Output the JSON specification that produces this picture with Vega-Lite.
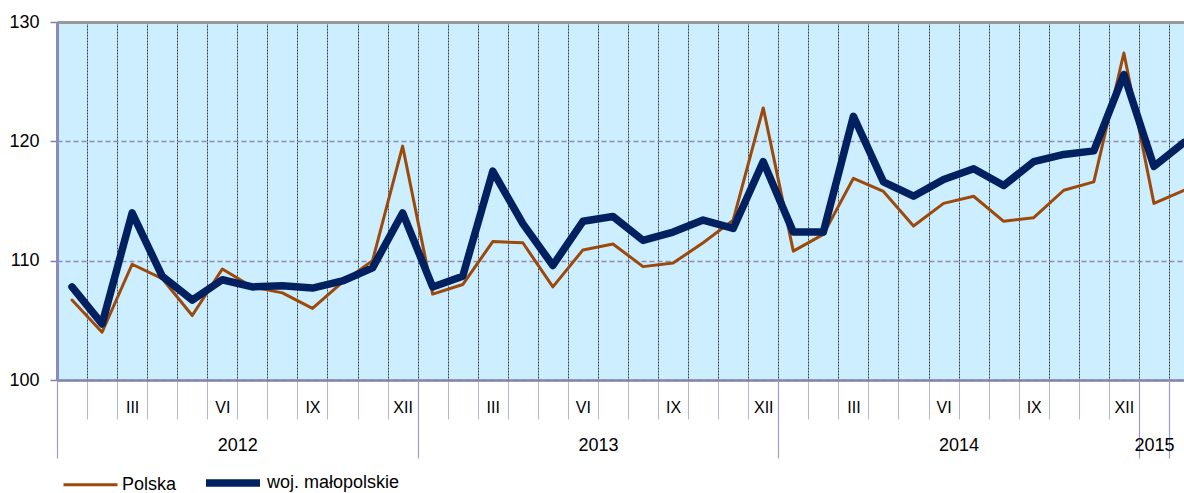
{
  "$schema": "https://vega.github.io/schema/vega-lite/v6.json",
  "width": 1127,
  "height": 358,
  "autosize": "none",
  "padding": {"left": 57, "top": 22, "right": 0, "bottom": 113},
  "background": "white",
  "config": {
    "view": {"fill": "#cdeeff", "stroke": null},
    "axis": {"labelFont": "Liberation Sans", "labelColor": "#000000", "labelOverlap": false, "labelFlush": false, "title": null}
  },
  "data": {
    "values": [
      {"idx": 0, "series": "Polska", "value": 106.7},
      {"idx": 1, "series": "Polska", "value": 104.0},
      {"idx": 2, "series": "Polska", "value": 109.7},
      {"idx": 3, "series": "Polska", "value": 108.5},
      {"idx": 4, "series": "Polska", "value": 105.4},
      {"idx": 5, "series": "Polska", "value": 109.3},
      {"idx": 6, "series": "Polska", "value": 107.8},
      {"idx": 7, "series": "Polska", "value": 107.3},
      {"idx": 8, "series": "Polska", "value": 106.0},
      {"idx": 9, "series": "Polska", "value": 108.2},
      {"idx": 10, "series": "Polska", "value": 110.0},
      {"idx": 11, "series": "Polska", "value": 119.6},
      {"idx": 12, "series": "Polska", "value": 107.2},
      {"idx": 13, "series": "Polska", "value": 108.0},
      {"idx": 14, "series": "Polska", "value": 111.6},
      {"idx": 15, "series": "Polska", "value": 111.5},
      {"idx": 16, "series": "Polska", "value": 107.8},
      {"idx": 17, "series": "Polska", "value": 110.9},
      {"idx": 18, "series": "Polska", "value": 111.4},
      {"idx": 19, "series": "Polska", "value": 109.5},
      {"idx": 20, "series": "Polska", "value": 109.8},
      {"idx": 21, "series": "Polska", "value": 111.5},
      {"idx": 22, "series": "Polska", "value": 113.4},
      {"idx": 23, "series": "Polska", "value": 122.8},
      {"idx": 24, "series": "Polska", "value": 110.8},
      {"idx": 25, "series": "Polska", "value": 112.2},
      {"idx": 26, "series": "Polska", "value": 116.9},
      {"idx": 27, "series": "Polska", "value": 115.8},
      {"idx": 28, "series": "Polska", "value": 112.9},
      {"idx": 29, "series": "Polska", "value": 114.8},
      {"idx": 30, "series": "Polska", "value": 115.4},
      {"idx": 31, "series": "Polska", "value": 113.3},
      {"idx": 32, "series": "Polska", "value": 113.6},
      {"idx": 33, "series": "Polska", "value": 115.9},
      {"idx": 34, "series": "Polska", "value": 116.6},
      {"idx": 35, "series": "Polska", "value": 127.4},
      {"idx": 36, "series": "Polska", "value": 114.8},
      {"idx": 37, "series": "Polska", "value": 115.9},
      {"idx": 0, "series": "woj. małopolskie", "value": 107.8},
      {"idx": 1, "series": "woj. małopolskie", "value": 104.7},
      {"idx": 2, "series": "woj. małopolskie", "value": 114.0},
      {"idx": 3, "series": "woj. małopolskie", "value": 108.7},
      {"idx": 4, "series": "woj. małopolskie", "value": 106.7},
      {"idx": 5, "series": "woj. małopolskie", "value": 108.4},
      {"idx": 6, "series": "woj. małopolskie", "value": 107.8},
      {"idx": 7, "series": "woj. małopolskie", "value": 107.9},
      {"idx": 8, "series": "woj. małopolskie", "value": 107.7},
      {"idx": 9, "series": "woj. małopolskie", "value": 108.3},
      {"idx": 10, "series": "woj. małopolskie", "value": 109.4},
      {"idx": 11, "series": "woj. małopolskie", "value": 114.0},
      {"idx": 12, "series": "woj. małopolskie", "value": 107.8},
      {"idx": 13, "series": "woj. małopolskie", "value": 108.7},
      {"idx": 14, "series": "woj. małopolskie", "value": 117.5},
      {"idx": 15, "series": "woj. małopolskie", "value": 113.1},
      {"idx": 16, "series": "woj. małopolskie", "value": 109.6},
      {"idx": 17, "series": "woj. małopolskie", "value": 113.3},
      {"idx": 18, "series": "woj. małopolskie", "value": 113.7},
      {"idx": 19, "series": "woj. małopolskie", "value": 111.7},
      {"idx": 20, "series": "woj. małopolskie", "value": 112.4},
      {"idx": 21, "series": "woj. małopolskie", "value": 113.4},
      {"idx": 22, "series": "woj. małopolskie", "value": 112.7},
      {"idx": 23, "series": "woj. małopolskie", "value": 118.3},
      {"idx": 24, "series": "woj. małopolskie", "value": 112.4},
      {"idx": 25, "series": "woj. małopolskie", "value": 112.4},
      {"idx": 26, "series": "woj. małopolskie", "value": 122.1},
      {"idx": 27, "series": "woj. małopolskie", "value": 116.6},
      {"idx": 28, "series": "woj. małopolskie", "value": 115.4},
      {"idx": 29, "series": "woj. małopolskie", "value": 116.8},
      {"idx": 30, "series": "woj. małopolskie", "value": 117.7},
      {"idx": 31, "series": "woj. małopolskie", "value": 116.3},
      {"idx": 32, "series": "woj. małopolskie", "value": 118.3},
      {"idx": 33, "series": "woj. małopolskie", "value": 118.9},
      {"idx": 34, "series": "woj. małopolskie", "value": 119.2},
      {"idx": 35, "series": "woj. małopolskie", "value": 125.6},
      {"idx": 36, "series": "woj. małopolskie", "value": 117.9},
      {"idx": 37, "series": "woj. małopolskie", "value": 119.9}
    ]
  },
  "layer": [
    {
      "mark": {"type": "line", "strokeJoin": "round", "strokeCap": "round", "clip": true},
      "encoding": {
        "x": {
          "field": "idx", "type": "quantitative",
          "scale": {"domain": [-0.5, 37], "nice": false, "zero": false},
          "axis": {
            "orient": "bottom",
            "values": [-0.5, 0.5, 1.5, 2.5, 3.5, 4.5, 5.5, 6.5, 7.5, 8.5, 9.5, 10.5, 11.5, 12.5, 13.5, 14.5, 15.5, 16.5, 17.5, 18.5, 19.5, 20.5, 21.5, 22.5, 23.5, 24.5, 25.5, 26.5, 27.5, 28.5, 29.5, 30.5, 31.5, 32.5, 33.5, 34.5, 35.5, 36.5],
            "labels": false,
            "grid": true, "gridColor": "#1c1c2c", "gridDash": [2, 1], "gridWidth": 1, "gridOpacity": 0.85,
            "ticks": true, "tickSize": 39, "tickColor": "#b4b4d6", "tickWidth": 1,
            "domain": true, "domainColor": "#8282aa", "domainWidth": 2.5
          }
        },
        "y": {
          "field": "value", "type": "quantitative",
          "scale": {"domain": [100, 130], "nice": false, "zero": false},
          "axis": {
            "values": [100, 110, 120, 130],
            "grid": true, "gridColor": "#8c8cb2", "gridDash": [5, 3], "gridWidth": 1.5,
            "domain": true, "domainColor": "#8a8abd", "domainWidth": 3,
            "ticks": true, "tickSize": 7, "tickColor": "#8282b0", "tickWidth": 1.5,
            "labelFontSize": 18, "labelPadding": 11, "labelBaseline": "middle"
          }
        },
        "color": {
          "field": "series", "type": "nominal",
          "scale": {"domain": ["Polska", "woj. małopolskie"], "range": ["#9c4a0b", "#002060"]},
          "legend": {
            "orient": "none", "legendX": 5, "legendY": 430, "direction": "horizontal", "title": null,
            "symbolType": "stroke", "symbolSize": 2916, "labelFontSize": 18, "labelFont": "Liberation Sans",
            "labelColor": "#000000", "labelOffset": 3, "columnPadding": 14
          }
        },
        "strokeWidth": {
          "field": "series", "type": "nominal",
          "scale": {"domain": ["Polska", "woj. małopolskie"], "range": [3, 7.5]},
          "legend": {
            "orient": "none", "legendX": 5, "legendY": 430, "direction": "horizontal", "title": null,
            "symbolType": "stroke", "symbolSize": 2916, "labelFontSize": 18, "labelFont": "Liberation Sans",
            "labelColor": "#000000", "labelOffset": 3, "columnPadding": 14
          }
        }
      }
    },
    {
      "mark": {"type": "point", "opacity": 0},
      "encoding": {
        "x": {
          "field": "idx", "type": "quantitative",
          "axis": {
            "orient": "bottom",
            "values": [2, 5, 8, 11, 14, 17, 20, 23, 26, 29, 32, 35],
            "labelExpr": "['I','II','III','IV','V','VI','VII','VIII','IX','X','XI','XII'][round(datum.value) % 12]",
            "grid": false, "ticks": false, "tickSize": 0, "domain": false,
            "labelFontSize": 16, "labelBaseline": "middle", "labelAlign": "center", "labelPadding": 27
          }
        }
      }
    },
    {
      "mark": {"type": "point", "opacity": 0},
      "encoding": {
        "x": {
          "field": "idx", "type": "quantitative",
          "axis": {
            "orient": "bottom",
            "values": [-0.5, 11.5, 23.5, 35.5, 36.5],
            "labels": false, "grid": false, "domain": false,
            "ticks": true, "tickSize": 78, "tickColor": "#9c9cc6", "tickWidth": 1.2
          }
        }
      }
    },
    {
      "mark": {"type": "point", "opacity": 0},
      "encoding": {
        "x": {
          "field": "idx", "type": "quantitative",
          "axis": {
            "orient": "bottom",
            "values": [5.5, 17.5, 29.5, 36],
            "labelExpr": "'' + (2012 + floor((datum.value + 0.5) / 12))",
            "grid": false, "ticks": false, "tickSize": 0, "domain": false,
            "labelFontSize": 18, "labelBaseline": "middle", "labelAlign": "center", "labelPadding": 65
          }
        }
      }
    },
    {
      "mark": {"type": "point", "opacity": 0},
      "encoding": {
        "x": {
          "field": "idx", "type": "quantitative",
          "axis": {
            "orient": "top",
            "labels": false, "grid": false, "ticks": false,
            "domain": true, "domainColor": "#999999", "domainWidth": 3
          }
        }
      }
    }
  ],
  "resolve": {"axis": {"x": "independent"}}
}
